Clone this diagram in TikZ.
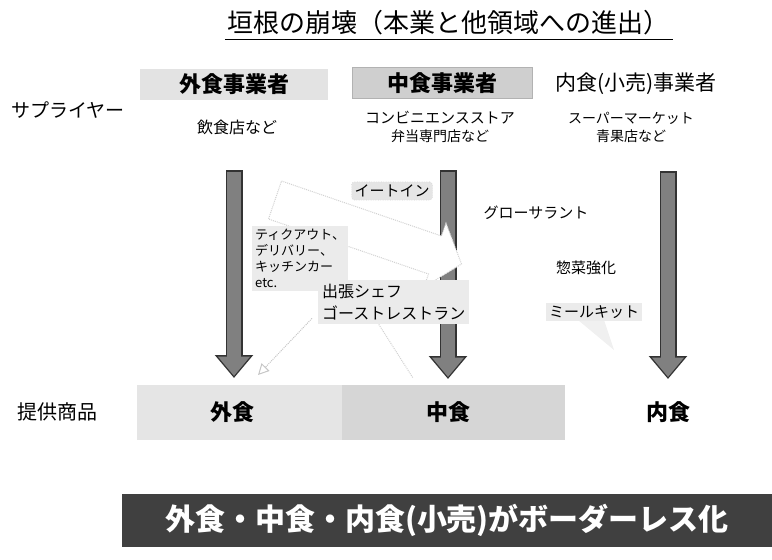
\documentclass[tikz,border=0pt]{standalone}
\usepackage{fontspec}
\setmainfont{Noto Sans CJK JP}
\usepackage{tikz}
\usetikzlibrary{arrows.meta}
\usetikzlibrary{positioning}
\tikzset{fs/.style={font=\fontsize{#1}{#1}\selectfont}}

\begin{document}
\begin{tikzpicture}[x=1pt,y=-1pt,
      inner sep=0pt,
      node distance=5pt,
      supbox/.style={minimum height=31pt, fill=gray!22},
      band/.style={minimum height=55pt},
      blob/.style={fill=gray!16, inner sep=3pt},
      bigarrow/.style={line width=17pt, black!80,
        -{Triangle[width=37pt,length=23pt]}},
      bigarrowin/.style={line width=14pt, black!50,
        shorten <=1.5pt, shorten >=2pt,
        -{Triangle[width=31pt,length=19.5pt]}},
      faint/.style={gray!45, densely dotted, line width=1pt}]

    \useasboundingbox (0,0) rectangle (772,560);

    % title
    \node[fs=26]
      (title) at (448,23) {垣根の崩壊（本業と他領域への進出）};
    \draw[line width=0.8pt]
      ([xshift=-2pt,yshift=-4pt]title.south west) -- ([xshift=4pt,yshift=-4pt]title.south east);

    % suppliers
    \node[fs=19]
      (supplier) at (68,110) {サプライヤー};
    \node[supbox, minimum width=188pt, fs=22]
      (gaiBiz) at (234,84) {\bfseries 外食事業者};
    \node[supbox, minimum width=180pt, fill=gray!38, draw=gray!60, fs=22]
      (chuBiz) at (442,83) {\bfseries 中食事業者};
    \node[fs=21]
      (naiBiz) at (636,84) {内食(小売)事業者};
    \node[fs=16]
      (gaiEx) at (237,127) {飲食店など};
    \node[fs=15]
      (chuEx) at (440,118) {コンビニエンスストア};
    \node[fs=14]
      (chuExB) [below=of chuEx] {弁当専門店など};
    \node[fs=14]
      (naiEx) at (631,118) {スーパーマーケット};
    \node[fs=14]
      (naiExB) [below=of naiEx] {青果店など};

    % products
    \node[fs=20]
      (products) at (57,412) {提供商品};
    \node[band, fill=gray!20, minimum width=205pt]
      (gaiBand) at (239.5,412.5) {};
    \node[band, fill=gray!32, minimum width=223pt]
      (chuBand) [right=0pt of gaiBand] {};
    \node[fs=22]
      (gaiProd) at (232,412) {\bfseries 外食};
    \node[fs=22]
      (chuProd) at (448,412) {\bfseries 中食};
    \node[fs=22]
      (naiProd) at (668,412) {\bfseries 内食};

    % main flows
    \coordinate (gaiTop) at (234,170);
    \coordinate (gaiEnd) at (234,378);
    \coordinate (chuTop) at (448,170);
    \coordinate (chuEnd) at (448,379);
    \coordinate (naiTop) at (668,171);
    \coordinate (naiEnd) at (668,379);
    \foreach \a/\b in {gaiTop/gaiEnd, chuTop/chuEnd, naiTop/naiEnd} {
      \draw[bigarrow] (\a) -- (\b);
      \draw[bigarrowin] (\a) -- (\b);
    }

    % crossing into other fields
    \filldraw[faint, gray!35, fill=white]
      (281.5,181) -- (441.5,236) -- (446,223) -- (461.5,264)
      -- (424,287) -- (428.5,274) -- (268.5,219) -- cycle;
    \node[blob, fill=gray!20, draw=gray!50, dotted, rounded corners=3pt, fs=15]
      (eatin) at (392,191) {イートイン};
    \node[fs=15]
      (grocerant) at (536,213) {グローサラント};
    \node[blob, anchor=north west, align=left, font=\fontsize{13}{16}\selectfont]
      (takeout) at (252,226) {ティクアウト、\\デリバリー、\\キッチンカー\\etc.};
    \node[blob, inner sep=4pt, anchor=north west, align=left, font=\fontsize{16}{22}\selectfont]
      (ghost) at (318,280) {出張シェフ\\ゴーストレストラン};
    \node[fs=15]
      (souzai) at (586,268) {惣菜強化};
    \fill[gray!12] (578,320) -- (604,320) -- (614,350) -- cycle;
    \node[blob, fs=15]
      (mealkit) at (594,312) {ミールキット};

    \coordinate (gaiHit) at (258,375);
    \coordinate (chuHit) at (413,378);
    \draw[faint, -{Triangle[open,length=11pt,width=11pt]}]
      ([xshift=-6pt,yshift=6pt]ghost.south west) -- (gaiHit);
    \draw[faint, gray!35]
      ([xshift=-15pt]ghost.south) -- (chuHit);

    % conclusion
    \node[fill=black!75, minimum width=650pt, minimum height=53pt, text=white, fs=30]
      (banner) at (447,520.5) {\bfseries 外食・中食・内食(小売)がボーダーレス化};

  \end{tikzpicture}
\end{document}
